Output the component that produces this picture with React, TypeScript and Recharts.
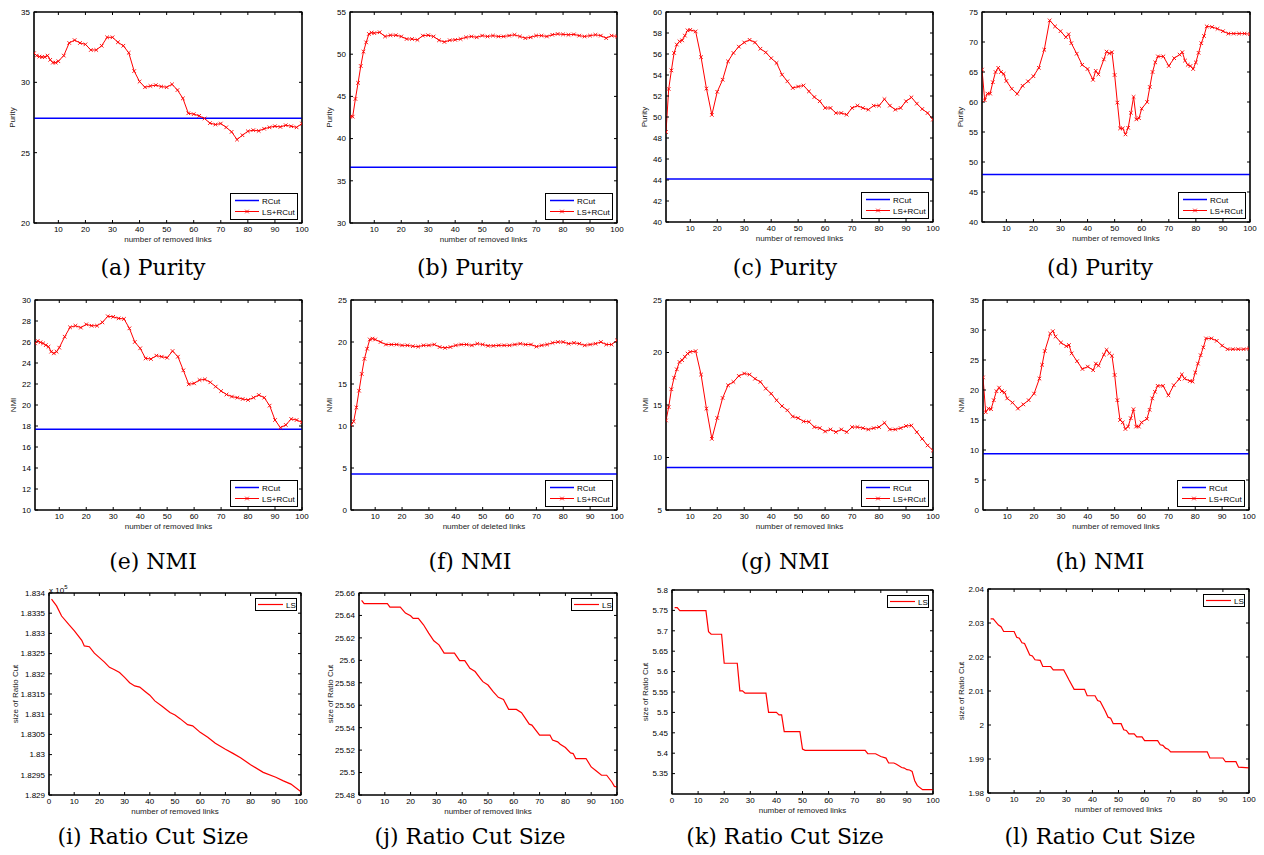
import React from 'react';
import { LineChart, Line, XAxis, YAxis, ReferenceLine, ReferenceArea, Legend } from 'recharts';

const FONT = '"Liberation Sans", Arial, Helvetica, sans-serif';
const CAP_FONT = '"DejaVu Serif", serif';

// ---------- shared x positions / ticks ----------
const X_STD = [1,2,3,4,5,6,7,8,9,10,12,14,16,18,20,22,24,26,28,30,32,34,36,38,40,42,44,46,48,50,52,54,56,58,60,62,64,66,68,70,72,74,76,78,80,82,84,86,88,90,92,94,96,98,100];
const X_TICKS_1 = [10,20,30,40,50,60,70,80,90,100];
const X_TICKS_0 = [0,10,20,30,40,50,60,70,80,90,100];

// ---------- (a) Purity ----------
const PURITY_A = [32.07,31.9,31.83,31.8,31.8,31.9,31.6,31.4,31.4,31.5,31.9,32.8,33.0,32.8,32.7,32.3,32.3,32.6,33.2,33.2,32.85,32.6,32.1,30.8,30.05,29.65,29.74,29.8,29.7,29.65,29.86,29.45,28.86,27.8,27.74,27.62,27.43,27.1,27.0,27.07,26.8,26.48,25.93,26.24,26.52,26.6,26.55,26.7,26.8,26.88,26.83,26.95,26.88,26.8,27.07];
const RCUT_A = 27.45;
const Y_TICKS_A = [20,25,30,35];

// ---------- (b) Purity ----------
const PURITY_B = [42.6,42.6,44.7,46.6,48.6,50.3,51.4,52.4,52.55,52.5,52.6,52.1,52.25,52.25,52.1,51.8,51.8,51.7,52.2,52.25,52.1,51.65,51.45,51.65,51.7,51.8,52.0,52.1,52.0,52.2,52.1,52.2,52.1,52.1,52.2,52.3,52.1,51.9,52.0,52.2,52.2,52.1,52.3,52.4,52.35,52.3,52.35,52.2,52.1,52.2,52.3,52.2,51.9,52.2,52.1];
const RCUT_B = 36.6;
const Y_TICKS_B = [30,35,40,45,50,55];

// ---------- (c) Purity ----------
const PURITY_C = [48.57,52.67,54.44,56.1,56.9,57.2,57.3,57.75,58.25,58.3,58.15,55.7,52.7,50.2,52.4,53.55,55.3,56.1,56.7,57.1,57.35,57.1,56.5,56.15,55.6,55.15,54.03,53.4,52.76,52.9,53.0,52.44,51.9,51.5,50.86,50.86,50.38,50.38,50.22,50.86,51.08,50.86,50.7,51.08,51.08,51.7,51.08,50.7,50.86,51.5,51.87,51.27,50.76,50.38,49.75];
const RCUT_C = 44.1;
const Y_TICKS_C = [40,42,44,46,48,50,52,54,56,58,60];

// ---------- (d) Purity ----------
const X_D = [1,2,3,4,5,6,7,8,9,10,12,14,16,18,20,22,24,26,28,30,32,33,34,36,38,40,42,43,44,46,47,48,49,50,51,52,53,54,55,56,57,58,59,60,62,63,64,65,66,68,70,72,74,75,76,77,78,79,80,81,82,83,84,86,88,90,92,94,96,98,100];
const PURITY_D = [65.4,60.3,61.4,61.4,63.3,65.0,65.7,65.0,64.7,63.5,62.2,61.35,62.7,63.45,64.3,65.7,68.7,73.6,72.6,71.8,70.8,71.3,69.8,68.05,66.2,65.5,63.7,65.2,64.6,67.1,68.4,68.1,68.3,64.5,59.9,55.6,55.6,54.6,55.7,58.2,60.85,57.1,57.3,58.9,60.0,62.5,65.0,66.6,67.6,67.6,66.0,67.3,67.9,68.3,66.9,66.2,66.0,65.5,66.6,68.2,69.8,71.0,72.6,72.5,72.2,71.8,71.4,71.4,71.4,71.4,71.3];
const RCUT_D = 47.9;
const Y_TICKS_D = [40,45,50,55,60,65,70,75];

// ---------- (e) NMI ----------
const NMI_E = [25.87,26.1,25.97,25.87,25.7,25.55,25.08,24.92,25.08,25.46,26.5,27.4,27.55,27.37,27.68,27.55,27.55,27.87,28.45,28.4,28.25,28.2,27.3,26.0,25.4,24.44,24.38,24.7,24.6,24.5,25.14,24.6,23.3,21.97,22.06,22.38,22.44,22.16,21.75,21.33,21.0,20.8,20.7,20.57,20.48,20.7,20.95,20.7,19.94,18.57,17.84,18.1,18.67,18.57,18.35];
const RCUT_E = 17.68;
const Y_TICKS_E = [10,12,14,16,18,20,22,24,26,28,30];

// ---------- (f) NMI ----------
const NMI_F = [10.15,10.55,12.2,14.2,16.2,18.0,19.2,20.3,20.4,20.3,20.0,19.7,19.7,19.7,19.6,19.6,19.5,19.45,19.6,19.6,19.7,19.4,19.3,19.4,19.6,19.7,19.7,19.6,19.8,19.7,19.55,19.55,19.6,19.6,19.6,19.7,19.8,19.7,19.7,19.45,19.6,19.7,19.9,20.0,20.0,19.8,19.9,19.8,19.6,19.7,19.8,20.0,19.7,19.7,20.2];
const RCUT_F = 4.3;
const Y_TICKS_F = [0,5,10,15,20,25];

// ---------- (g) NMI ----------
const NMI_G = [13.53,14.8,16.5,17.6,18.4,19.1,19.27,19.6,19.9,20.06,20.13,17.9,14.65,11.78,13.76,15.67,16.88,17.2,17.77,18.0,17.9,17.5,17.2,16.56,16.08,15.45,14.9,14.5,13.9,13.76,13.44,13.4,12.9,12.8,12.48,12.67,12.42,12.67,12.42,12.9,12.9,12.8,12.67,12.8,12.9,13.3,12.67,12.67,12.8,13.0,13.05,12.42,11.78,11.15,10.67];
const RCUT_G = 9.04;
const Y_TICKS_G = [5,10,15,20,25];

// ---------- (h) NMI ----------
const X_H = [1,2,3,4,5,6,7,8,9,10,12,14,16,18,20,22,23,24,26,27,28,30,32,33,34,36,38,40,42,43,44,46,47,48,49,50,51,52,53,54,55,56,57,58,59,60,62,63,64,65,66,68,70,72,74,75,76,78,79,80,81,82,83,84,86,88,90,92,94,96,98,100];
const NMI_H = [22.1,16.3,16.9,16.8,18.3,19.8,20.4,19.8,19.6,18.6,17.9,16.9,17.6,18.3,19.4,21.9,24.2,26.5,29.4,29.8,28.9,27.9,27.3,27.5,26.1,24.8,23.5,23.9,23.3,24.4,24.05,25.9,26.7,26.1,25.7,22.5,18.3,15.0,14.6,13.5,13.9,15.3,16.8,13.9,13.9,14.6,15.2,16.7,18.6,19.7,20.7,20.7,19.1,20.8,21.8,22.6,21.9,21.5,21.4,22.9,24.4,25.8,27.1,28.6,28.6,28.2,27.4,26.8,26.8,26.8,26.8,26.9];
const RCUT_H = 9.39;
const Y_TICKS_H = [0,5,10,15,20,25,30,35];

// ---------- (i) Ratio cut (x 10^5) ----------
const X_I = [1,3,5,8,10,13,14,16,18,20,22,24,26,28,30,32,34,36,38,40,42,45,48,50,52,55,57,60,63,66,70,73,76,80,85,90,93,96,100];
const RC_I = [1.83385,1.83368,1.83343,1.83321,1.83307,1.83283,1.83269,1.83267,1.83251,1.8324,1.83229,1.83216,1.8321,1.83203,1.83191,1.83178,1.8317,1.83167,1.83157,1.83147,1.83133,1.83119,1.83104,1.83098,1.83089,1.83074,1.83071,1.83055,1.83043,1.83028,1.83013,1.83003,1.82992,1.82975,1.82956,1.82944,1.82935,1.82927,1.82908];
const Y_TICKS_I = [1.829,1.8295,1.83,1.8305,1.831,1.8315,1.832,1.8325,1.833,1.8335,1.834];

// ---------- (j) Ratio cut ----------
const X_J = [1,2,11,12,16,18,20,21,23,25,27,29,31,33,37,39,41,43,45,47,48,50,52,54,56,58,61,63,66,67,70,74,75,77,78,80,82,83,84,88,90,92,94,96,98,99,100];
const RC_J = [25.6534,25.6505,25.6505,25.6475,25.6475,25.6421,25.6397,25.6373,25.6373,25.6317,25.6242,25.6174,25.6138,25.6064,25.6064,25.5998,25.5998,25.5929,25.59,25.584,25.581,25.578,25.5721,25.567,25.5652,25.5563,25.5563,25.5533,25.5431,25.5423,25.5334,25.5334,25.5289,25.5274,25.5253,25.5223,25.5175,25.5169,25.5125,25.5125,25.505,25.5014,25.4976,25.4976,25.4916,25.4877,25.4871];
const Y_TICKS_J = [25.48,25.5,25.52,25.54,25.56,25.58,25.6,25.62,25.64,25.66];

// ---------- (k) Ratio cut ----------
const X_K = [1,2,3,13,14,15,19,20,25,26,27,28,36,37,40,41,42,43,49,50,51,74,75,78,80,82,83,85,86,88,89,90,91,92,93,94,96,100];
const RC_K = [5.7568,5.7568,5.7494,5.7494,5.698,5.6915,5.6915,5.6205,5.6205,5.553,5.553,5.547,5.547,5.5,5.5,5.494,5.494,5.453,5.453,5.41,5.407,5.407,5.3987,5.3987,5.392,5.388,5.376,5.376,5.373,5.365,5.3636,5.3596,5.3588,5.3555,5.3327,5.3205,5.3106,5.3106];
const Y_TICKS_K = [5.35,5.4,5.45,5.5,5.55,5.6,5.65,5.7,5.75,5.8];

// ---------- (l) Ratio cut ----------
const X_L = [1,2,4,5,6,10,11,12,13,14,16,17,18,20,21,24,25,29,30,31,33,37,38,41,42,43,45,46,47,48,51,52,53,54,56,57,59,60,65,66,67,68,69,70,84,85,90,91,95,96,100];
const RC_L = [2.0312,2.0312,2.0294,2.0289,2.0275,2.0275,2.0258,2.0255,2.0242,2.024,2.0206,2.0203,2.0192,2.019,2.0172,2.0172,2.0162,2.0162,2.0148,2.0133,2.0105,2.0105,2.0086,2.0086,2.0072,2.0069,2.004,2.0023,2.002,2.0004,2.0004,1.9986,1.9984,1.9974,1.9974,1.9965,1.9965,1.9954,1.9954,1.9942,1.994,1.9932,1.9929,1.9921,1.9921,1.9903,1.9903,1.9892,1.9892,1.9876,1.9874];
const Y_TICKS_L = [1.98,1.99,2,2.01,2.02,2.03,2.04];

const CAPTIONS = ['(a) Purity','(b) Purity','(c) Purity','(d) Purity','(e) NMI','(f) NMI','(g) NMI','(h) NMI','(i) Ratio Cut Size','(j) Ratio Cut Size','(k) Ratio Cut Size','(l) Ratio Cut Size'];

type Kind = 'rcut' | 'ls';
type PanelDef = {
  xs: number[]; ys: number[]; rcut?: number; kind: Kind;
  box: [number, number, number, number]; // plot left, top, right, bottom
  xDomain: [number, number]; xTicks: number[];
  yDomain: [number, number]; yTicks: number[];
  yLabel: string; xLabel: string; ylOff: number;
};

const RM = 'number of removed links';
const PANELS: PanelDef[] = [
  { xs: X_STD, ys: PURITY_A, rcut: RCUT_A, kind: 'rcut', box: [34, 12, 302, 223], xDomain: [1, 100], xTicks: X_TICKS_1, yDomain: [20, 35], yTicks: Y_TICKS_A, yLabel: 'Purity', xLabel: RM, ylOff: 22 },
  { xs: X_STD, ys: PURITY_B, rcut: RCUT_B, kind: 'rcut', box: [350, 12, 617, 223], xDomain: [1, 100], xTicks: X_TICKS_1, yDomain: [30, 55], yTicks: Y_TICKS_B, yLabel: 'Purity', xLabel: RM, ylOff: 21 },
  { xs: X_STD, ys: PURITY_C, rcut: RCUT_C, kind: 'rcut', box: [666, 12, 933, 222], xDomain: [1, 100], xTicks: X_TICKS_1, yDomain: [40, 60], yTicks: Y_TICKS_C, yLabel: 'Purity', xLabel: RM, ylOff: 22 },
  { xs: X_D, ys: PURITY_D, rcut: RCUT_D, kind: 'rcut', box: [982, 12, 1250, 222], xDomain: [1, 100], xTicks: X_TICKS_1, yDomain: [40, 75], yTicks: Y_TICKS_D, yLabel: 'Purity', xLabel: RM, ylOff: 22 },
  { xs: X_STD, ys: NMI_E, rcut: RCUT_E, kind: 'rcut', box: [35, 300, 302, 510], xDomain: [1, 100], xTicks: X_TICKS_1, yDomain: [10, 30], yTicks: Y_TICKS_E, yLabel: 'NMI', xLabel: RM, ylOff: 22 },
  { xs: X_STD, ys: NMI_F, rcut: RCUT_F, kind: 'rcut', box: [351, 300, 617, 510], xDomain: [1, 100], xTicks: X_TICKS_1, yDomain: [0, 25], yTicks: Y_TICKS_F, yLabel: 'NMI', xLabel: 'number of deleted links', ylOff: 22 },
  { xs: X_STD, ys: NMI_G, rcut: RCUT_G, kind: 'rcut', box: [666, 300, 933, 510], xDomain: [1, 100], xTicks: X_TICKS_1, yDomain: [5, 25], yTicks: Y_TICKS_G, yLabel: 'NMI', xLabel: RM, ylOff: 21 },
  { xs: X_H, ys: NMI_H, rcut: RCUT_H, kind: 'rcut', box: [983, 300, 1249, 510], xDomain: [1, 100], xTicks: X_TICKS_1, yDomain: [0, 35], yTicks: Y_TICKS_H, yLabel: 'NMI', xLabel: RM, ylOff: 22 },
  { xs: X_I, ys: RC_I, kind: 'ls', box: [49, 593, 301, 795], xDomain: [0, 100], xTicks: X_TICKS_0, yDomain: [1.829, 1.834], yTicks: Y_TICKS_I, yLabel: 'size of Ratio Cut', xLabel: RM, ylOff: 34 },
  { xs: X_J, ys: RC_J, kind: 'ls', box: [359, 593, 617, 795], xDomain: [0, 100], xTicks: X_TICKS_0, yDomain: [25.48, 25.66], yTicks: Y_TICKS_J, yLabel: 'size of Ratio Cut', xLabel: RM, ylOff: 29 },
  { xs: X_K, ys: RC_K, kind: 'ls', box: [672, 590, 933, 794], xDomain: [0, 100], xTicks: X_TICKS_0, yDomain: [5.3, 5.8], yTicks: Y_TICKS_K, yLabel: 'size of Ratio Cut', xLabel: RM, ylOff: 27 },
  { xs: X_L, ys: RC_L, kind: 'ls', box: [988, 589, 1249, 793], xDomain: [0, 100], xTicks: X_TICKS_0, yDomain: [1.98, 2.04], yTicks: Y_TICKS_L, yLabel: 'size of Ratio Cut', xLabel: RM, ylOff: 27 },
];

const CAP_X = [153, 470, 785, 1100];
const CAP_Y = [268, 562, 837];

const XMark = (props: any) => {
  const { cx, cy, index } = props;
  if (cx == null || cy == null) return <g key={`m${index}`} />;
  const s = 1.8;
  return (
    <path key={`m${index}`} d={`M${cx - s},${cy - s}L${cx + s},${cy + s}M${cx - s},${cy + s}L${cx + s},${cy - s}`}
      stroke="#ff0000" strokeWidth={0.9} fill="none" />
  );
};

const EmptyTick = () => <g />;

const LegendRCut = () => (
  <svg width={68} height={27} style={{ display: 'block' }}>
    <rect x={0.5} y={0.5} width={67} height={26} fill="#fff" stroke="#000" strokeWidth={1} />
    <line x1={5} x2={29} y1={7.5} y2={7.5} stroke="#0000ff" strokeWidth={1.5} />
    <text x={32} y={10.5} fontSize={8} fontFamily={FONT} fill="#000">RCut</text>
    <line x1={5} x2={29} y1={18.5} y2={18.5} stroke="#ff0000" strokeWidth={1} />
    <path d="M15.2,16.7L18.8,20.3M15.2,20.3L18.8,16.7" stroke="#ff0000" strokeWidth={0.9} fill="none" />
    <text x={32} y={21.5} fontSize={8} fontFamily={FONT} fill="#000">LS+RCut</text>
  </svg>
);

const LegendLS = () => (
  <svg width={42} height={13} style={{ display: 'block' }}>
    <rect x={0.5} y={0.5} width={41} height={12} fill="#fff" stroke="#000" strokeWidth={1} />
    <line x1={3} x2={28} y1={6.5} y2={6.5} stroke="#ff0000" strokeWidth={1.2} />
    <text x={31} y={9.5} fontSize={8} fontFamily={FONT} fill="#000">LS</text>
  </svg>
);

function Panel({ p }: { p: PanelDef }) {
  const [l, t, r, b] = p.box;
  const YW = p.ylOff * 2;
  const MT = 9, MR = 9, XH = 32;
  const W = YW + (r - l) + MR + 1;
  const H = MT + 1 + (b - t) + XH;
  const data = p.xs.map((x, i) => ({ x, y: p.ys[i] }));
  const tickStyle = { fontSize: 8, fill: '#000', fontFamily: FONT };
  const labelStyle = { fontSize: 8, fill: '#222', fontFamily: FONT };
  const legendStyle = p.kind === 'rcut'
    ? { right: MR + 5, bottom: XH + 3 }
    : { right: MR + 5, top: MT + 6 };
  return (
    <div style={{ position: 'absolute', left: l - YW, top: t - MT - 1, width: W, height: H }}>
      <LineChart width={W} height={H} data={data} margin={{ top: MT, right: MR, bottom: 0, left: 0 }}>
        <XAxis dataKey="x" type="number" domain={p.xDomain} ticks={p.xTicks} interval={0} height={XH}
          tickSize={-3} tickMargin={6} stroke="#000" tick={tickStyle} allowDataOverflow
          label={{ value: p.xLabel, position: 'center', ...labelStyle }} />
        <XAxis xAxisId="top" orientation="top" dataKey="x" type="number" domain={p.xDomain} ticks={p.xTicks}
          interval={0} height={1} tickSize={-3} tick={EmptyTick} stroke="#000" allowDataOverflow />
        <YAxis type="number" domain={p.yDomain} ticks={p.yTicks} interval={0} width={YW}
          tickSize={-3} tickMargin={7} stroke="#000" tick={tickStyle} allowDataOverflow
          label={{ value: p.yLabel, angle: -90, position: 'center', ...labelStyle }} />
        <YAxis yAxisId="right" orientation="right" type="number" domain={p.yDomain} ticks={p.yTicks}
          interval={0} width={1} tickSize={-3} tick={EmptyTick} stroke="#000" allowDataOverflow />
        <ReferenceArea x1={p.xDomain[0]} x2={p.xDomain[1]} y1={p.yDomain[0]} y2={p.yDomain[1]}
          fill="none" fillOpacity={0} stroke="#000" strokeWidth={1.2} strokeOpacity={1} ifOverflow="visible" />
        {p.rcut !== undefined && (
          <ReferenceLine y={p.rcut} stroke="#0000ff" strokeWidth={1.5} />
        )}
        <Line dataKey="y" type="linear" stroke="#ff0000" strokeWidth={p.kind === 'rcut' ? 1 : 1.2}
          dot={p.kind === 'rcut' ? XMark : false} activeDot={false} isAnimationActive={false} />
        <Legend layout="vertical" align="center" verticalAlign="middle" wrapperStyle={legendStyle}
          content={() => (p.kind === 'rcut' ? <LegendRCut /> : <LegendLS />)} />
      </LineChart>
    </div>
  );
}

export default function App() {
  return (
    <div style={{ position: 'absolute', left: 0, top: 0, width: 1264, height: 855, background: '#fff', overflow: 'hidden' }}>
      {PANELS.map((p, i) => <Panel key={i} p={p} />)}
      <div style={{ position: 'absolute', left: 49, top: 584, fontSize: 8, fontFamily: FONT, color: '#000', whiteSpace: 'nowrap' }}>
        x 10<sup style={{ fontSize: 6 }}>5</sup>
      </div>
      {CAPTIONS.map((c, i) => (
        <div key={c} style={{
          position: 'absolute', left: CAP_X[i % 4], top: CAP_Y[Math.floor(i / 4)],
          transform: 'translate(-50%, -50%)', fontFamily: CAP_FONT, fontSize: 22, color: '#000',
          whiteSpace: 'nowrap', lineHeight: 1,
        }}>{c}</div>
      ))}
    </div>
  );
}
